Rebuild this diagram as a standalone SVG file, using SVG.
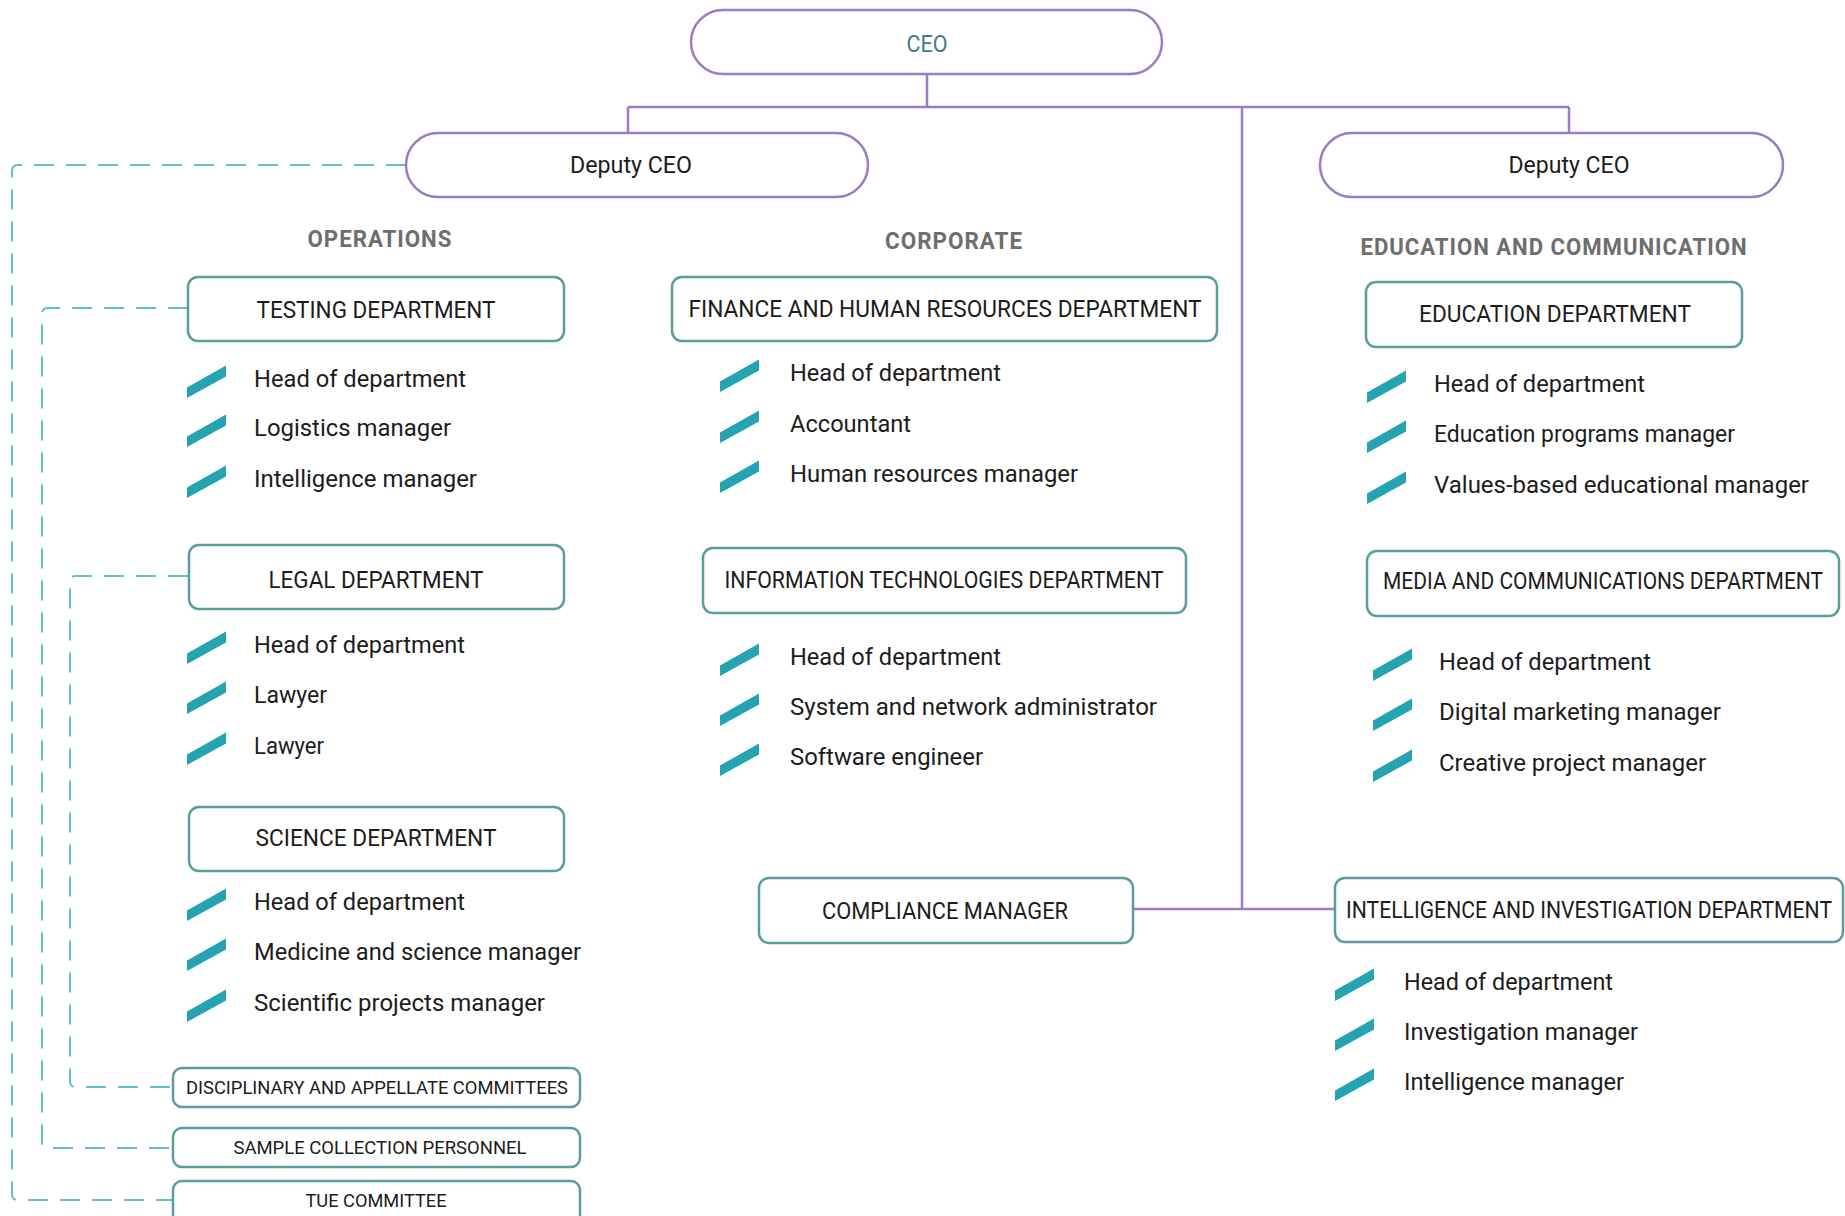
<svg xmlns="http://www.w3.org/2000/svg" xmlns:xlink="http://www.w3.org/1999/xlink" width="1845" height="1216" viewBox="0 0 1845 1216">
<style>
  .pill { fill: #ffffff; stroke: #9b7cc2; stroke-width: 2.5; }
  .box { fill: #ffffff; stroke: #5a9e9c; stroke-width: 2.5; }
  .solid { fill: none; stroke: #9b7cc2; stroke-width: 2.5; }
  .dash { fill: none; stroke: #5fc0ca; stroke-width: 2; stroke-dasharray: 20 12; }
  .t { font-family: Roboto, "Liberation Sans", "DejaVu Sans", sans-serif; fill: #1c1c1c; }
  .lbl { font-size: 24px; text-anchor: middle; }
  .item { font-size: 23px; }
  .small { font-size: 19px; text-anchor: middle; }
  .hdr { font-size: 23px; font-weight: bold; fill: #6e6e6e; text-anchor: middle; letter-spacing: 1px; }
  .ceo { fill: #3f7c84; }
  .ic { fill: #26a3b1; }
</style>
<defs>
  <polygon id="slash" points="0,0.5 39,-21.5 39,-10.5 0,11"/>
</defs>

<g id="connectors">
  <path class="solid" d="M927,74 V107 M628,107 H1569 M628,107 V133 M1569,107 V133 M1242,107 V909 M1133,909 H1335"/>
  <path class="dash" d="M406,165 H18 Q12,165 12,171 V1194 Q12,1200 18,1200 H173"/>
  <path class="dash" d="M188,308 H48 Q42,308 42,314 V1142 Q42,1148 48,1148 H173"/>
  <path class="dash" d="M188,576 H76 Q70,576 70,582 V1081 Q70,1087 76,1087 H173"/>
</g>

<g id="ceo">
  <rect class="pill" x="691" y="10" width="471" height="64" rx="32"/>
  <text class="t lbl ceo" x="927" y="52" textLength="41" lengthAdjust="spacingAndGlyphs">CEO</text>
</g>
<g id="deputy-ceo-left">
  <rect class="pill" x="406" y="133" width="462" height="64" rx="32"/>
  <text class="t lbl" x="631" y="173" textLength="122" lengthAdjust="spacingAndGlyphs">Deputy CEO</text>
</g>
<g id="deputy-ceo-right">
  <rect class="pill" x="1320" y="133" width="463" height="64" rx="32"/>
  <text class="t lbl" x="1569" y="173" textLength="121" lengthAdjust="spacingAndGlyphs">Deputy CEO</text>
</g>

<g id="headers">
  <text class="t hdr" x="380" y="247" textLength="145" lengthAdjust="spacingAndGlyphs">OPERATIONS</text>
  <text class="t hdr" x="954" y="249" textLength="138" lengthAdjust="spacingAndGlyphs">CORPORATE</text>
  <text class="t hdr" x="1554" y="255" textLength="387" lengthAdjust="spacingAndGlyphs">EDUCATION AND COMMUNICATION</text>
</g>

<g id="testing-department">
  <rect class="box" x="188" y="277" width="376" height="64" rx="10"/>
  <text class="t lbl" x="376" y="318" textLength="239" lengthAdjust="spacingAndGlyphs">TESTING DEPARTMENT</text>
  <use class="ic" xlink:href="#slash" x="187" y="387"/>
  <use class="ic" xlink:href="#slash" x="187" y="436"/>
  <use class="ic" xlink:href="#slash" x="187" y="487"/>
  <text class="t item" x="254" y="387" textLength="212" lengthAdjust="spacingAndGlyphs">Head of department</text>
  <text class="t item" x="254" y="436" textLength="197" lengthAdjust="spacingAndGlyphs">Logistics manager</text>
  <text class="t item" x="254" y="487" textLength="223" lengthAdjust="spacingAndGlyphs">Intelligence manager</text>
</g>

<g id="legal-department">
  <rect class="box" x="189" y="545" width="375" height="64" rx="10"/>
  <text class="t lbl" x="376" y="588" textLength="215" lengthAdjust="spacingAndGlyphs">LEGAL DEPARTMENT</text>
  <use class="ic" xlink:href="#slash" x="187" y="653"/>
  <use class="ic" xlink:href="#slash" x="187" y="703"/>
  <use class="ic" xlink:href="#slash" x="187" y="754"/>
  <text class="t item" x="254" y="653" textLength="211" lengthAdjust="spacingAndGlyphs">Head of department</text>
  <text class="t item" x="254" y="703" textLength="73" lengthAdjust="spacingAndGlyphs">Lawyer</text>
  <text class="t item" x="254" y="754" textLength="70" lengthAdjust="spacingAndGlyphs">Lawyer</text>
</g>

<g id="science-department">
  <rect class="box" x="189" y="807" width="375" height="64" rx="10"/>
  <text class="t lbl" x="376" y="846" textLength="241" lengthAdjust="spacingAndGlyphs">SCIENCE DEPARTMENT</text>
  <use class="ic" xlink:href="#slash" x="187" y="910"/>
  <use class="ic" xlink:href="#slash" x="187" y="960"/>
  <use class="ic" xlink:href="#slash" x="187" y="1011"/>
  <text class="t item" x="254" y="910" textLength="211" lengthAdjust="spacingAndGlyphs">Head of department</text>
  <text class="t item" x="254" y="960" textLength="327" lengthAdjust="spacingAndGlyphs">Medicine and science manager</text>
  <text class="t item" x="254" y="1011" textLength="291" lengthAdjust="spacingAndGlyphs">Scientific projects manager</text>
</g>

<g id="disciplinary-committees">
  <rect class="box" x="173" y="1068" width="407" height="39" rx="9"/>
  <text class="t small" x="377" y="1094" textLength="382" lengthAdjust="spacingAndGlyphs">DISCIPLINARY AND APPELLATE COMMITTEES</text>
</g>
<g id="sample-collection">
  <rect class="box" x="173" y="1128" width="407" height="39" rx="9"/>
  <text class="t small" x="380" y="1154" textLength="293" lengthAdjust="spacingAndGlyphs">SAMPLE COLLECTION PERSONNEL</text>
</g>
<g id="tue-committee">
  <rect class="box" x="173" y="1181" width="407" height="44" rx="9"/>
  <text class="t small" x="376" y="1207" textLength="141" lengthAdjust="spacingAndGlyphs">TUE COMMITTEE</text>
</g>

<g id="finance-hr-department">
  <rect class="box" x="672" y="277" width="545" height="64" rx="10"/>
  <text class="t lbl" x="945" y="317" textLength="513" lengthAdjust="spacingAndGlyphs">FINANCE AND HUMAN RESOURCES DEPARTMENT</text>
  <use class="ic" xlink:href="#slash" x="720" y="381"/>
  <use class="ic" xlink:href="#slash" x="720" y="432"/>
  <use class="ic" xlink:href="#slash" x="720" y="482"/>
  <text class="t item" x="790" y="381" textLength="211" lengthAdjust="spacingAndGlyphs">Head of department</text>
  <text class="t item" x="790" y="432" textLength="121" lengthAdjust="spacingAndGlyphs">Accountant</text>
  <text class="t item" x="790" y="482" textLength="288" lengthAdjust="spacingAndGlyphs">Human resources manager</text>
</g>

<g id="it-department">
  <rect class="box" x="703" y="548" width="483" height="65" rx="10"/>
  <text class="t lbl" x="944" y="588" textLength="439" lengthAdjust="spacingAndGlyphs">INFORMATION TECHNOLOGIES DEPARTMENT</text>
  <use class="ic" xlink:href="#slash" x="720" y="665"/>
  <use class="ic" xlink:href="#slash" x="720" y="715"/>
  <use class="ic" xlink:href="#slash" x="720" y="765"/>
  <text class="t item" x="790" y="665" textLength="211" lengthAdjust="spacingAndGlyphs">Head of department</text>
  <text class="t item" x="790" y="715" textLength="367" lengthAdjust="spacingAndGlyphs">System and network administrator</text>
  <text class="t item" x="790" y="765" textLength="193" lengthAdjust="spacingAndGlyphs">Software engineer</text>
</g>

<g id="compliance-manager">
  <rect class="box" x="759" y="878" width="374" height="65" rx="10"/>
  <text class="t lbl" x="945" y="919" textLength="246" lengthAdjust="spacingAndGlyphs">COMPLIANCE MANAGER</text>
</g>

<g id="education-department">
  <rect class="box" x="1366" y="282" width="376" height="65" rx="10"/>
  <text class="t lbl" x="1555" y="322" textLength="272" lengthAdjust="spacingAndGlyphs">EDUCATION DEPARTMENT</text>
  <use class="ic" xlink:href="#slash" x="1367" y="392"/>
  <use class="ic" xlink:href="#slash" x="1367" y="442"/>
  <use class="ic" xlink:href="#slash" x="1367" y="493"/>
  <text class="t item" x="1434" y="392" textLength="211" lengthAdjust="spacingAndGlyphs">Head of department</text>
  <text class="t item" x="1434" y="442" textLength="301" lengthAdjust="spacingAndGlyphs">Education programs manager</text>
  <text class="t item" x="1434" y="493" textLength="375" lengthAdjust="spacingAndGlyphs">Values-based educational manager</text>
</g>

<g id="media-department">
  <rect class="box" x="1367" y="551" width="472" height="65" rx="10"/>
  <text class="t lbl" x="1603" y="589" textLength="440" lengthAdjust="spacingAndGlyphs">MEDIA AND COMMUNICATIONS DEPARTMENT</text>
  <use class="ic" xlink:href="#slash" x="1373" y="670"/>
  <use class="ic" xlink:href="#slash" x="1373" y="720"/>
  <use class="ic" xlink:href="#slash" x="1373" y="771"/>
  <text class="t item" x="1439" y="670" textLength="212" lengthAdjust="spacingAndGlyphs">Head of department</text>
  <text class="t item" x="1439" y="720" textLength="282" lengthAdjust="spacingAndGlyphs">Digital marketing manager</text>
  <text class="t item" x="1439" y="771" textLength="267" lengthAdjust="spacingAndGlyphs">Creative project manager</text>
</g>

<g id="intelligence-department">
  <rect class="box" x="1335" y="878" width="508" height="64" rx="10"/>
  <text class="t lbl" x="1589" y="918" textLength="486" lengthAdjust="spacingAndGlyphs">INTELLIGENCE AND INVESTIGATION DEPARTMENT</text>
  <use class="ic" xlink:href="#slash" x="1335" y="990"/>
  <use class="ic" xlink:href="#slash" x="1335" y="1040"/>
  <use class="ic" xlink:href="#slash" x="1335" y="1090"/>
  <text class="t item" x="1404" y="990" textLength="209" lengthAdjust="spacingAndGlyphs">Head of department</text>
  <text class="t item" x="1404" y="1040" textLength="234" lengthAdjust="spacingAndGlyphs">Investigation manager</text>
  <text class="t item" x="1404" y="1090" textLength="220" lengthAdjust="spacingAndGlyphs">Intelligence manager</text>
</g>
</svg>
